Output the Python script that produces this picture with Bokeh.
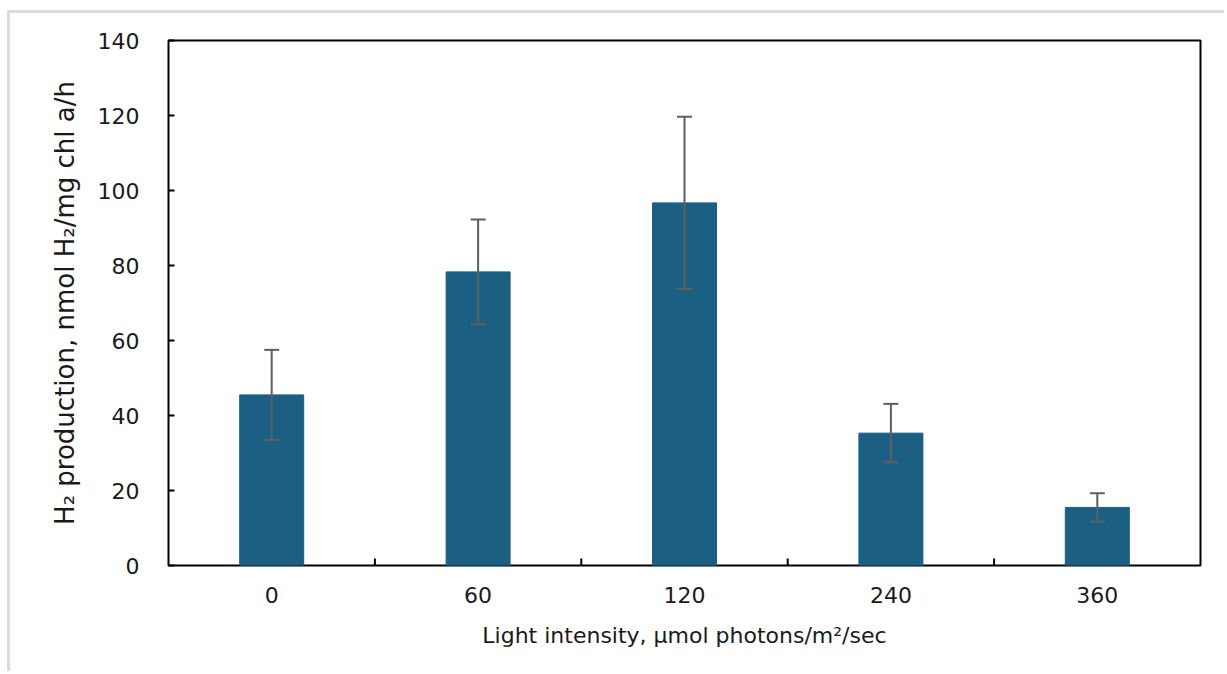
from bokeh.plotting import figure
from bokeh.models import ColumnDataSource, Range1d, FactorRange, Whisker, TeeHead, SingleIntervalTicker
from bokeh.embed import file_html
from bokeh.resources import INLINE

categories = ["0", "60", "120", "240", "360"]
values = [45.5, 78.3, 96.7, 35.3, 15.5]
errors = [12.0, 14.0, 23.0, 7.8, 3.8]

FONT = "DejaVu Sans"
BAR = "#1B5F83"
ERR = "#5F5F5F"
TXT = "#1A1A1A"

src = ColumnDataSource(dict(
    cat=categories, val=values,
    upper=[v + e for v, e in zip(values, errors)],
    lower=[v - e for v, e in zip(values, errors)],
))

p = figure(width=1217, height=661, x_range=FactorRange(*categories), y_range=Range1d(0, 140),
           output_backend="svg", toolbar_location=None,
           min_border_left=158, min_border_right=27, min_border_top=27, min_border_bottom=109)
p.styles = {"margin-left": "7px", "margin-top": "10px",
            "border-top": "3px solid #DCDCDC", "border-left": "3px solid #DCDCDC"}
p.x_range.range_padding = 0

p.vbar(x="cat", top="val", width=0.31, source=src, fill_color=BAR, line_color=BAR)
w = Whisker(base="cat", upper="upper", lower="lower", source=src, line_color=ERR, line_width=2,
            upper_head=TeeHead(size=15, line_color=ERR, line_width=2),
            lower_head=TeeHead(size=15, line_color=ERR, line_width=2))
w.level = "overlay"
p.add_layout(w)

# category boundary ticks on x axis (inside)
bounds = list(range(1, len(categories)))
p.segment(x0=bounds, x1=bounds, y0=[0] * len(bounds), y1=[1.9] * len(bounds),
          line_color="black", line_width=2)

p.grid.visible = False
p.outline_line_color = "black"
p.outline_line_width = 2
p.background_fill_color = "white"
p.border_fill_color = "white"

p.yaxis.ticker = SingleIntervalTicker(interval=20)
p.yaxis.axis_line_color = None
p.yaxis.major_tick_in = 6
p.yaxis.major_tick_out = 0
p.yaxis.major_tick_line_width = 2
p.yaxis.minor_tick_line_color = None
p.yaxis.major_label_standoff = 25
p.yaxis.axis_label = "H\u2082 production, nmol H\u2082/mg chl a/h"
p.yaxis.axis_label_standoff = 15
p.yaxis.axis_label_text_font_size = "26px"

p.xaxis.axis_line_color = None
p.xaxis.major_tick_line_color = None
p.xaxis.major_tick_in = 0
p.xaxis.major_tick_out = 0
p.xaxis.major_label_standoff = 21
p.xaxis.axis_label = "Light intensity, \u00b5mol photons/m\u00b2/sec"
p.xaxis.axis_label_standoff = 17
p.xaxis.axis_label_text_font_size = "22px"

for ax in (p.xaxis, p.yaxis):
    ax.major_label_text_font = FONT
    ax.major_label_text_font_size = "22px"
    ax.major_label_text_color = TXT
    ax.axis_label_text_font = FONT
    ax.axis_label_text_font_style = "normal"
    ax.axis_label_text_color = TXT

open("out.html", "w").write(file_html(p, INLINE))
